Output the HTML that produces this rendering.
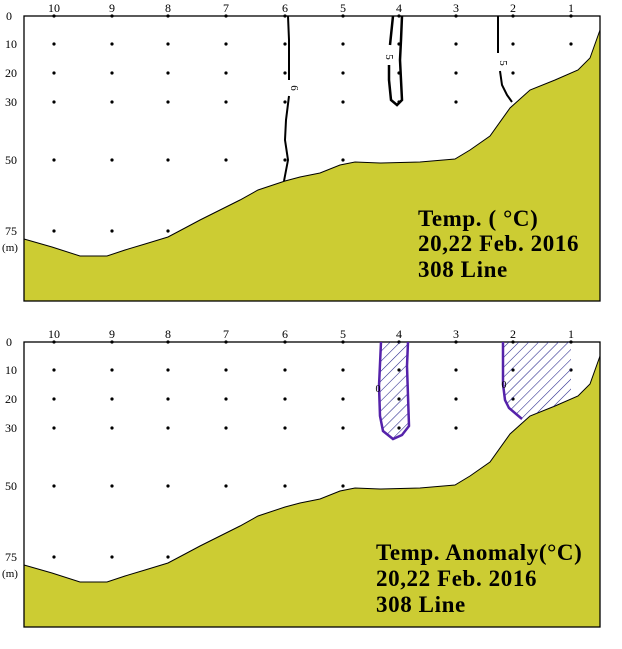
<!DOCTYPE html>
<html><head><meta charset="utf-8"><style>
html,body{margin:0;padding:0;background:#fff}
svg{display:block}
text{font-family:"Liberation Serif",serif}
</style></head><body>
<svg width="622" height="649" viewBox="0 0 622 649" xmlns="http://www.w3.org/2000/svg">
<defs>
<pattern id="h" patternUnits="userSpaceOnUse" width="7" height="7" patternTransform="rotate(45)">
<line x1="0" y1="0" x2="0" y2="7" stroke="#22228a" stroke-width="1.1"/>
</pattern>
<g id="base">
<rect x="24" y="16" width="576" height="285" fill="#fff"/>
<path d="M24,239 L52,247 L80,256 L107,256 L125,250 L145,244 L168,237 L185,228 L200,220 L220,210 L240,200 L258,190 L285,181 L300,177 L320,173 L340,165 L355,162 L380,163 L420,162 L455,159 L470,150 L490,136 L510,108 L530,90 L555,80 L578,70 L590,58 L600,30 L600,301 L24,301 Z" fill="#cccc33" stroke="#000" stroke-width="1"/>
<rect x="24" y="16" width="576" height="285" fill="none" stroke="#000" stroke-width="1.3"/>
<g font-size="12" text-anchor="middle">
<text x="54" y="12">10</text><text x="112" y="12">9</text><text x="168" y="12">8</text><text x="226" y="12">7</text><text x="285" y="12">6</text><text x="343" y="12">5</text><text x="399" y="12">4</text><text x="456" y="12">3</text><text x="513" y="12">2</text><text x="571" y="12">1</text>
<text x="9" y="20">0</text><text x="11" y="48">10</text><text x="11" y="77">20</text><text x="11" y="106">30</text><text x="11" y="164">50</text><text x="11" y="235">75</text><text x="10" y="251" font-size="11">(m)</text>
</g>
<g fill="#000">
<circle cx="54" cy="16" r="1.6"/><circle cx="112" cy="16" r="1.6"/><circle cx="168" cy="16" r="1.6"/><circle cx="226" cy="16" r="1.6"/><circle cx="285" cy="16" r="1.6"/><circle cx="343" cy="16" r="1.6"/><circle cx="399" cy="16" r="1.6"/><circle cx="456" cy="16" r="1.6"/><circle cx="513" cy="16" r="1.6"/><circle cx="571" cy="16" r="1.6"/>
<circle cx="54" cy="44" r="1.6"/><circle cx="112" cy="44" r="1.6"/><circle cx="168" cy="44" r="1.6"/><circle cx="226" cy="44" r="1.6"/><circle cx="285" cy="44" r="1.6"/><circle cx="343" cy="44" r="1.6"/><circle cx="399" cy="44" r="1.6"/><circle cx="456" cy="44" r="1.6"/><circle cx="513" cy="44" r="1.6"/><circle cx="571" cy="44" r="1.6"/>
<circle cx="54" cy="73" r="1.6"/><circle cx="112" cy="73" r="1.6"/><circle cx="168" cy="73" r="1.6"/><circle cx="226" cy="73" r="1.6"/><circle cx="285" cy="73" r="1.6"/><circle cx="343" cy="73" r="1.6"/><circle cx="399" cy="73" r="1.6"/><circle cx="456" cy="73" r="1.6"/><circle cx="513" cy="73" r="1.6"/>
<circle cx="54" cy="102" r="1.6"/><circle cx="112" cy="102" r="1.6"/><circle cx="168" cy="102" r="1.6"/><circle cx="226" cy="102" r="1.6"/><circle cx="285" cy="102" r="1.6"/><circle cx="343" cy="102" r="1.6"/><circle cx="399" cy="102" r="1.6"/><circle cx="456" cy="102" r="1.6"/>
<circle cx="54" cy="160" r="1.6"/><circle cx="112" cy="160" r="1.6"/><circle cx="168" cy="160" r="1.6"/><circle cx="226" cy="160" r="1.6"/><circle cx="285" cy="160" r="1.6"/><circle cx="343" cy="160" r="1.6"/>
<circle cx="54" cy="231" r="1.6"/><circle cx="112" cy="231" r="1.6"/><circle cx="168" cy="231" r="1.6"/>
</g>
</g>
</defs>

<use href="#base"/>
<path d="M288,16 L289,40 L289,80 M289,96 L286,120 L285,140 L288,160 L284,181" fill="none" stroke="#000" stroke-width="2"/>
<text x="291" y="88" font-size="11" text-anchor="middle" transform="rotate(90 291 88)">6</text>
<path d="M393,16 L390,45 M389,65 L389,80 L391,100 L397,105 L402,100 L401,80 L400,60 L401,40 L402,16" fill="none" stroke="#000" stroke-width="2.5"/>
<text x="386" y="57" font-size="11" text-anchor="middle" transform="rotate(90 386 57)">5</text>
<path d="M498,16 L498,53 M500,71 L502,85 L507,95 L512,102" fill="none" stroke="#000" stroke-width="2"/>
<text x="500" y="63" font-size="11" text-anchor="middle" transform="rotate(90 500 63)">5</text>
<g font-size="23" font-weight="bold" fill="#000" letter-spacing="0.6">
<text x="418" y="226">Temp. ( °C)</text>
<text x="418" y="251">20,22 Feb. 2016</text>
<text x="418" y="277">308 Line</text>
</g>

<g transform="translate(0,326)">
<use href="#base"/>
<path d="M381,16 L379,60 L380,90 L383,105 L393,113 L402,109 L409,100 L408,70 L407,40 L408,16 Z" fill="url(#h)"/>
<path d="M381,16 L379,60 L380,90 L383,105 L393,113 L402,109 L409,100 L408,70 L407,40 L408,16" fill="none" stroke="#5522aa" stroke-width="2.5"/>
<path d="M503,16 L503,58 L505,74 L509,82 L522,93 L530,90 L555,80 L571,72 L571,16 Z" fill="url(#h)"/>
<path d="M503,16 L503,58 L505,74 L509,82 L522,93" fill="none" stroke="#5522aa" stroke-width="2.5"/>
<text x="378" y="66" font-size="10" text-anchor="middle" fill="#000">0</text>
<text x="504" y="62" font-size="10" text-anchor="middle" fill="#000">0</text>
<g font-size="23" font-weight="bold" fill="#000" letter-spacing="0.6">
<text x="376" y="234">Temp. Anomaly(°C)</text>
<text x="376" y="260">20,22 Feb. 2016</text>
<text x="376" y="286">308 Line</text>
</g>
</g>
</svg>
</body></html>
